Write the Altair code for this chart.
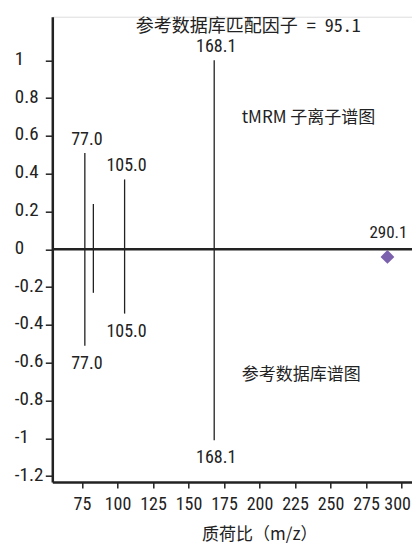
import altair as alt
import pandas as pd

# ---- data ----
mz = [77.0, 83.0, 105.0, 168.1]
tmrm_intensity = [0.51, 0.24, 0.37, 1.0]
ref_intensity = [-0.51, -0.23, -0.34, -1.01]
peak_labels = ["77.0", "", "105.0", "168.1"]

precursor_mz = [290.1]
precursor_y = [-0.04]
precursor_label = ["290.1"]

x_ticks = [75, 100, 125, 150, 175, 200, 225, 250, 275, 300]
y_ticks = [-1.2, -1.0, -0.8, -0.6, -0.4, -0.2, 0, 0.2, 0.4, 0.6, 0.8, 1.0]

match_title = "参考数据库匹配因子 = 95.1"
top_caption = "tMRM 子离子谱图"
bottom_caption = "参考数据库谱图"
x_title = "质荷比（m/z）"

NUM_FONT = "Liberation Sans Narrow, Roboto Condensed, DejaVu Sans Condensed, Liberation Sans, sans-serif"
CJK_FONT = "Noto Sans CJK SC, sans-serif"
MONO_CJK_FONT = "Noto Sans Mono CJK SC, Noto Sans CJK SC, monospace"
INK = "#222222"

peaks = pd.DataFrame({"mz": mz, "top": tmrm_intensity, "bottom": ref_intensity, "label": peak_labels})
prec = pd.DataFrame({"mz": precursor_mz, "y": precursor_y, "label": precursor_label})

PAD_L, PAD_T = 44.3, 8.7
W = 404 - PAD_L          # plot area width (page 52.3 .. 412)
H = 465.3                # plot area height (page 16.7 .. 482)
PAD_B = 537 - PAD_T - H  # keep the page free of overflow

PX_PER_MZ = 1.42
xmin = 75 - 29.7 / PX_PER_MZ
xmax = xmin + W / PX_PER_MZ
xscale = alt.Scale(domain=[xmin, xmax], nice=False, zero=False)
yscale = alt.Scale(domain=[-1.231, 1.231], nice=False, zero=False)

base = alt.Chart(peaks)

x_enc = alt.X(
    "mz:Q", scale=xscale,
    axis=alt.Axis(
        values=x_ticks, tickCount=30, title=x_title, grid=False, labelOverlap=False,
        domainWidth=2.5, domainColor=INK, tickColor=INK, tickWidth=1.5, tickSize=6,
        labelFont=NUM_FONT, labelFontSize=18, labelColor=INK, labelPadding=7,
        labelFlush=15, labelFlushOffset=9,
        titleFont=CJK_FONT, titleFontSize=17, titleFontWeight="normal", titleColor=INK,
        titleX=207, titleY=PAD_B - 11, titleBaseline="middle", titleAnchor="middle",
    ),
)
y_axis = alt.Axis(
    values=y_ticks, tickCount=30, title=None, grid=False, labelExpr="'' + datum.value",
    domainWidth=2.5, domainColor=INK, tickColor=INK, tickWidth=1.5, tickSize=7,
    labelFont=NUM_FONT, labelFontSize=19, labelColor=INK, labelAlign="left",
    labelPadding=31, labelOffset=-2, labelOverlap=False,
)

up = base.mark_rule(color=INK, strokeWidth=1.3).encode(
    x=x_enc, y=alt.Y("top:Q", scale=yscale, axis=y_axis), y2=alt.datum(0)
)
down = base.mark_rule(color=INK, strokeWidth=1.3).encode(
    x="mz:Q", y="bottom:Q", y2=alt.datum(0)
)
zero = alt.Chart(pd.DataFrame({"z": [0]})).mark_rule(color=INK, strokeWidth=2.5).encode(y="z:Q")

up_lab = base.mark_text(font=NUM_FONT, fontSize=18, color=INK, baseline="bottom", dy=-4, dx=2).encode(
    x="mz:Q", y="top:Q", text="label:N"
)
down_lab = base.mark_text(font=NUM_FONT, fontSize=18, color=INK, baseline="top", dy=9, dx=2).encode(
    x="mz:Q", y="bottom:Q", text="label:N"
)

prec_pt = alt.Chart(prec).mark_point(shape="diamond", filled=True, size=190, color="#7b60ad", opacity=1).encode(
    x="mz:Q", y="y:Q"
)
prec_lab = alt.Chart(prec).mark_text(font=NUM_FONT, fontSize=17, color=INK, baseline="middle", dy=-24, dx=1).encode(
    x="mz:Q", y="y:Q", text="label:N"
)

title_txt = alt.Chart(pd.DataFrame({"t": [match_title]})).mark_text(
    font=MONO_CJK_FONT, fontSize=18, color=INK, align="center", baseline="middle"
).encode(x=alt.value(196), y=alt.value(10), text="t:N")
cap1 = alt.Chart(pd.DataFrame({"t": [top_caption]})).mark_text(
    font=CJK_FONT, fontSize=17, color=INK, align="left", baseline="middle"
).encode(x=alt.value(189.4), y=alt.value(101.3), text="t:N")
cap2 = alt.Chart(pd.DataFrame({"t": [bottom_caption]})).mark_text(
    font=CJK_FONT, fontSize=17, color=INK, align="left", baseline="middle"
).encode(x=alt.value(189.4), y=alt.value(358.3), text="t:N")

chart = alt.layer(zero, up, down, up_lab, down_lab, prec_pt, prec_lab, title_txt, cap1, cap2).properties(
    width=W, height=H,
    autosize=alt.AutoSizeParams(type="none"),
    padding={"left": PAD_L, "top": PAD_T, "right": 0, "bottom": PAD_B},
).configure_view(stroke=None).configure(background="white")

chart.save("out.html", embed_options={"renderer": "svg", "actions": False})
